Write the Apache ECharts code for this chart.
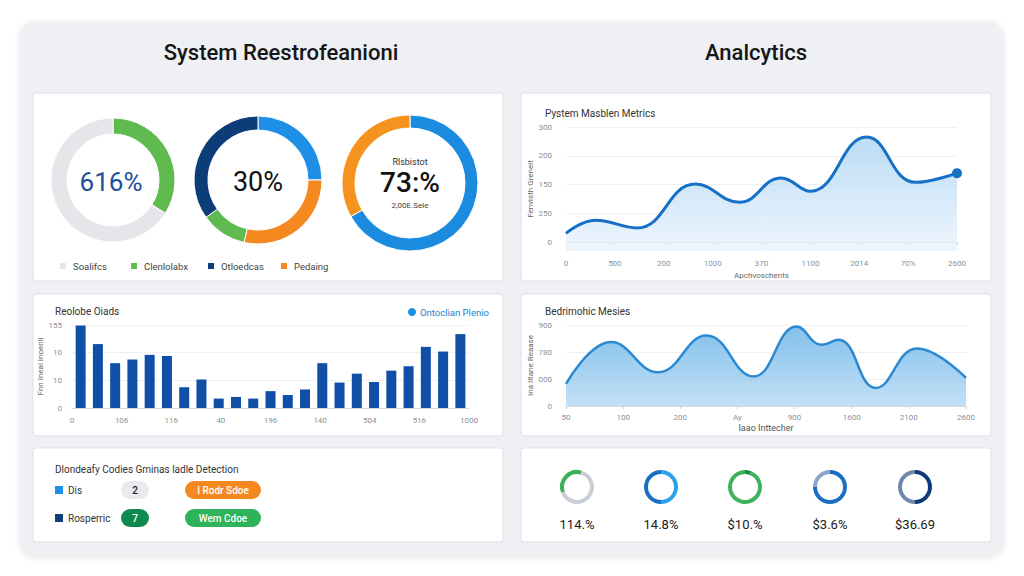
<!DOCTYPE html>
<html>
<head>
<meta charset="utf-8">
<title>Dashboard</title>
<script src="https://cdn.jsdelivr.net/npm/echarts@6/dist/echarts.min.js"></script>
<style>
    html, body { margin: 0; padding: 0; background: #ffffff; }
    #main { width: 1024px; height: 576px; }
</style>
</head>
<body>
<div id="main"></div>
<script>
// ---- data ----
const headerTitles = ['System Reestrofeanioni', 'Analcytics'];

// donuts, top-left card
const donutOneNames = ['Clenlolabx', 'Soalifcs'];
const donutOneValues = [34, 66];
const donutTwoNames = ['Rdisnet', 'Pedaing', 'Clenlolabx', 'Otloedcas'];
const donutTwoValues = [25, 28.5, 11.6, 34.9];
const donutThreeNames = ['Rdisnet', 'Pedaing'];
const donutThreeValues = [66.8, 33.2];
const donutCenterTexts = ['616%', '30%', '73:%'];
const donutThreeCaption = ['Rlsbistot', '2,00E.Sele'];
const legendNamesA = ['Soalifcs', 'Clenlolabx', 'Otloedcas', 'Pedaing'];

// line chart, top-right card
const lineTitle = 'Pystem Masblen Metrics';
const lineX = [0, 0.6, 1.45, 2.65, 3.55, 4.4, 5.0, 6.15, 7.15, 8];
const lineY = [0.31, 0.77, 0.5, 2.02, 1.39, 2.23, 1.77, 3.65, 2.08, 2.4];
const lineXLabels = ['0', '500', '200', '1000', '370', '1100', '2014', '70%', '2600'];
const lineYLabels = ['0', '250', '150', '200', '300'];

// bar chart, middle-left card
const barTitle = 'Reolobe Oiads';
const barSeriesName = 'Ontoclian Plenio';
const barCategories = ['1', '2', '3', '4', '5', '6', '7', '8', '9', '10', '11', '12',
    '13', '14', '15', '16', '17', '18', '19', '20', '21', '22', '23'];
const barValues = [29.8, 23.1, 16.2, 17.5, 19.2, 18.8, 7.5, 10.3, 3.4, 4.0, 3.4, 6.1,
    4.7, 6.7, 16.2, 9.2, 12.4, 9.4, 13.5, 15.1, 22.1, 20.4, 26.7];
const barXLabels = ['0', '106', '116', '40', '196', '140', '504', '516', '1000'];
const barYLabels = ['0', '10', '10', '155'];

// area chart, middle-right card
const areaTitle = 'Bedrimohic Mesies';
const areaX = [0, 0.79, 1.61, 2.46, 3.28, 4.04, 4.47, 4.77, 5.42, 6.14, 7];
const areaY = [0.82, 2.37, 1.25, 2.61, 1.09, 2.94, 2.27, 2.45, 0.67, 2.13, 1.04];
const areaXLabels = ['50', '100', '200', 'Ay', '900', '1600', '2100', '2600'];
const areaYLabels = ['0', '000', '780', '900'];

// detection table, bottom-left card
const tableTitle = 'Dlondeafy Codies Gminas ladle Detection';
const tableNames = ['Dis', 'Rosperric'];
const tableCounts = ['2', '7'];
const tableStatus = ['I Rodr Sdoe', 'Wem Cdoe'];

// mini donuts, bottom-right card
const miniLabels = ['114.%', '14.8%', '$10.%', '$3.6%', '$36.69'];
const miniShares = [35, 50, 6, 25, 50];

// ---- styles ----
const FONT = 'Roboto, "Noto Sans", sans-serif';
const GREEN = '#5fba4f';
const ORANGE = '#f5891f';
const BLUE = '#1e8fe6';
const NAVY = '#0d3d78';
const GRAY = '#e5e6e9';
const AXIS_TEXT = { color: '#8b9099', fontSize: 8, fontFamily: FONT };

const cards = [
    [33, 93, 470, 188], [521, 93, 470, 188],
    [33, 294, 470, 142], [521, 294, 470, 142],
    [33, 448, 470, 94], [521, 448, 470, 94]
];

const miniCenters = [[577, 487], [661, 487], [745, 487], [830, 487], [915, 487]];
const miniColors = [
    ['#3dae5a', '#c9ced6'], ['#1b6fc2', '#2aa2ee'], ['#1f8a45', '#3fb35c'],
    ['#8aa6c9', '#1b6fc2'], ['#7088ad', '#0d3a7a']
];
const miniStart = [200, 270, 90, 180, 270];

function txt(x, y, text, size, color, extra) {
    return {
        type: 'text', x: x, y: y, z: 50,
        style: Object.assign({
            text: text, fontSize: size, fill: color, fontFamily: FONT,
            align: 'left', verticalAlign: 'middle'
        }, extra || {})
    };
}

function pill(x, y, w, h, color, text, textColor) {
    return [
        { type: 'rect', z: 40, shape: { x: x, y: y, width: w, height: h, r: h / 2 }, style: { fill: color } },
        txt(x + w / 2, y + h / 2, text, 10, textColor, { align: 'center', fontWeight: 500 })
    ];
}

const graphics = [
    { type: 'rect', z: -20, shape: { x: 20, y: 22, width: 983, height: 534, r: 14 },
      style: { fill: '#eef0f4', shadowBlur: 6, shadowColor: 'rgba(0,0,0,0.12)', shadowOffsetY: 1 } }
];
cards.forEach(function (c) {
    graphics.push({ type: 'rect', z: -10, shape: { x: c[0], y: c[1], width: c[2], height: c[3], r: 3 },
        style: { fill: '#ffffff', stroke: '#dde1e7', lineWidth: 1 } });
});
graphics.push(txt(281, 52, headerTitles[0], 22, '#161616', { align: 'center', fontWeight: 500 }));
graphics.push(txt(756, 52, headerTitles[1], 22, '#161616', { align: 'center', fontWeight: 500 }));

graphics.push(txt(111, 182, donutCenterTexts[0], 26, '#1d4f9a', { align: 'center' }));
graphics.push(txt(258, 182, donutCenterTexts[1], 27, '#111111', { align: 'center' }));
graphics.push(txt(410, 162, donutThreeCaption[0], 9, '#333333', { align: 'center' }));
graphics.push(txt(410, 182, donutCenterTexts[2], 28, '#111111', { align: 'center', fontWeight: 500 }));
graphics.push(txt(410, 205, donutThreeCaption[1], 8, '#444444', { align: 'center' }));

graphics.push(txt(545, 113, lineTitle, 10, '#333333'));
graphics.push(txt(55, 311, barTitle, 10, '#333333'));
graphics.push(txt(545, 311, areaTitle, 10, '#333333'));
graphics.push(txt(55, 469, tableTitle, 10, '#333333'));

// detection rows
const rowY = [490, 518];
const rowSquare = [BLUE, NAVY];
const countFill = ['#e8eaee', '#0e8a50'];
const countText = ['#222222', '#ffffff'];
const statusFill = ['#f5891f', '#2fb35a'];
tableNames.forEach(function (name, i) {
    graphics.push({ type: 'rect', z: 40, shape: { x: 55, y: rowY[i] - 4, width: 8, height: 8 }, style: { fill: rowSquare[i] } });
    graphics.push(txt(68, rowY[i], name, 10, '#333333'));
    graphics.push.apply(graphics, pill(121, rowY[i] - 9, 28, 18, countFill[i], tableCounts[i], countText[i]));
    graphics.push.apply(graphics, pill(185, rowY[i] - 9, 76, 18, statusFill[i], tableStatus[i], '#ffffff'));
});

miniLabels.forEach(function (label, i) {
    graphics.push(txt(miniCenters[i][0], 524, label, 13, '#1a1a1a', { align: 'center' }));
});

// ---- series ----
function pieData(names, values, colors) {
    return values.map(function (v, i) {
        return { name: names[i], value: v, itemStyle: { color: colors[i] } };
    });
}

const pieBase = {
    type: 'pie', silent: true, clockwise: true, startAngle: 90,
    label: { show: false }, labelLine: { show: false },
    itemStyle: { borderColor: '#ffffff', borderWidth: 1 }
};

const series = [
    Object.assign({}, pieBase, { center: [113, 180], radius: [46, 62],
        data: pieData(donutOneNames, donutOneValues, [GREEN, GRAY]) }),
    Object.assign({}, pieBase, { center: [258, 180], radius: [50, 64],
        data: pieData(donutTwoNames, donutTwoValues, [BLUE, ORANGE, GREEN, NAVY]) }),
    Object.assign({}, pieBase, { center: [410, 183], radius: [55, 68],
        data: pieData(donutThreeNames, donutThreeValues, ['#1b8be0', '#f5931e']) }),
    {
        type: 'line', xAxisIndex: 0, yAxisIndex: 0, smooth: 0.45,
        symbol: 'none',
        data: lineX.map(function (x, i) {
            const item = { value: [x, lineY[i]] };
            if (i === lineX.length - 1) {
                item.symbol = 'circle';
                item.symbolSize = 10;
                item.itemStyle = { color: '#1670c6' };
            }
            return item;
        }),
        lineStyle: { width: 3, color: '#1670c6' },
        areaStyle: { origin: 'start', color: new echarts.graphic.LinearGradient(0, 0, 0, 1, [
            { offset: 0, color: '#9fcdf1' }, { offset: 1, color: '#e6f2fc' }]) }
    },
    {
        type: 'bar', name: barSeriesName, xAxisIndex: 1, yAxisIndex: 1,
        data: barValues, barWidth: 10, itemStyle: { color: '#0f4fa8' }
    },
    {
        type: 'line', xAxisIndex: 3, yAxisIndex: 2, smooth: 0.45, symbol: 'none',
        data: areaX.map(function (x, i) { return [x, areaY[i]]; }),
        lineStyle: { width: 2.5, color: '#2b89d2' },
        areaStyle: { origin: 'start', color: new echarts.graphic.LinearGradient(0, 0, 0, 1, [
            { offset: 0, color: '#4fa6e4' }, { offset: 1, color: '#a9d3f2' }]) }
    }
];

miniShares.forEach(function (share, i) {
    series.push(Object.assign({}, pieBase, {
        center: miniCenters[i], radius: [13, 17], startAngle: miniStart[i],
        itemStyle: { borderWidth: 0 },
        data: [
            { value: share, itemStyle: { color: miniColors[i][0] } },
            { value: 100 - share, itemStyle: { color: miniColors[i][1] } }
        ]
    }));
});

const legendXA = [58, 129, 206, 279];
const legends = legendNamesA.map(function (name, i) {
    return {
        data: [name], left: legendXA[i], top: 261, padding: 0, selectedMode: false,
        icon: 'rect', itemWidth: 8, itemHeight: 8, itemGap: 4,
        textStyle: { fontSize: 9.5, color: '#444', fontFamily: FONT, padding: [0, 0, 0, 1] }
    };
});
legends.push({
    data: [{ name: barSeriesName, itemStyle: { color: '#1a8fe3' } }],
    left: 408, top: 307, padding: 0, selectedMode: false,
    icon: 'circle', itemWidth: 8, itemHeight: 8, itemGap: 4,
    textStyle: { fontSize: 9.5, color: '#1a7fd0', fontFamily: FONT, padding: [0, 0, 0, -1] }
});

const splitStyle = { lineStyle: { color: '#eef0f3', width: 1 } };

const option = {
    animation: false,
    backgroundColor: '#ffffff',
    graphic: { elements: graphics },
    legend: legends,
    grid: [
        { left: 566, right: 67, top: 127, bottom: 325 },
        { left: 72, right: 555, top: 325, bottom: 168 },
        { left: 566, right: 58, top: 325, bottom: 170 }
    ],
    xAxis: [
        {
            gridIndex: 0, type: 'value', min: 0, max: 8, interval: 1,
            name: 'Apchvoschents', nameLocation: 'middle', nameGap: 20,
            nameTextStyle: { fontSize: 8, color: '#666', fontFamily: FONT },
            axisLine: { lineStyle: { color: '#cfd5dd' } },
            axisTick: { show: true, length: 3, lineStyle: { color: '#cfd5dd' } },
            splitLine: { show: false },
            axisLabel: Object.assign({ margin: 8, formatter: function (v) { return lineXLabels[v]; } }, AXIS_TEXT)
        },
        {
            gridIndex: 1, type: 'category', data: barCategories,
            axisLine: { lineStyle: { color: '#d5dae1' } },
            axisTick: { show: false }, axisLabel: { show: false }
        },
        {
            gridIndex: 1, type: 'value', min: 0, max: 8, interval: 1, position: 'bottom',
            axisLine: { show: false }, axisTick: { show: false }, splitLine: { show: false },
            axisLabel: Object.assign({ margin: 8, formatter: function (v) { return barXLabels[v]; } }, AXIS_TEXT)
        },
        {
            gridIndex: 2, type: 'value', min: 0, max: 7, interval: 1,
            name: 'Iaao Inttecher', nameLocation: 'middle', nameGap: 17,
            nameTextStyle: { fontSize: 9, color: '#555', fontFamily: FONT },
            axisLine: { lineStyle: { color: '#cfd5dd' } },
            axisTick: { show: true, length: 3, lineStyle: { color: '#cfd5dd' } },
            splitLine: { show: false },
            axisLabel: Object.assign({ margin: 7, formatter: function (v) { return areaXLabels[v]; } }, AXIS_TEXT)
        }
    ],
    yAxis: [
        {
            gridIndex: 0, type: 'value', min: -0.3, max: 4,
            name: 'Fenvisth Greneit', nameLocation: 'middle', nameGap: 22, nameRotate: 90,
            nameTextStyle: { fontSize: 8, color: '#666', fontFamily: FONT },
            axisLine: { show: false },
            axisTick: { show: false, customValues: [1, 2, 3, 4] },
            splitLine: splitStyle,
            axisLabel: Object.assign({ margin: 14, customValues: [0, 1, 2, 3, 4],
                formatter: function (v) { return lineYLabels[Math.round(v)]; } }, AXIS_TEXT)
        },
        {
            gridIndex: 1, type: 'value', min: 0, max: 30, interval: 10,
            name: 'Fnn Ineal Inoenli', nameLocation: 'middle', nameGap: 22, nameRotate: 90,
            nameTextStyle: { fontSize: 8, color: '#666', fontFamily: FONT },
            axisLine: { show: false }, axisTick: { show: false },
            splitLine: splitStyle,
            axisLabel: Object.assign({ margin: 10, formatter: function (v) { return barYLabels[v / 10]; } }, AXIS_TEXT)
        },
        {
            gridIndex: 2, type: 'value', min: 0, max: 3, interval: 1,
            name: 'Ina Iltane Reaase', nameLocation: 'middle', nameGap: 24, nameRotate: 90,
            nameTextStyle: { fontSize: 8, color: '#666', fontFamily: FONT },
            axisLine: { show: false }, axisTick: { show: false },
            splitLine: splitStyle,
            axisLabel: Object.assign({ margin: 14, formatter: function (v) { return areaYLabels[v]; } }, AXIS_TEXT)
        }
    ],
    series: series
};

const chart = echarts.init(document.getElementById('main'), null, { renderer: 'svg' });
chart.setOption(option);
</script>
</body>
</html>
